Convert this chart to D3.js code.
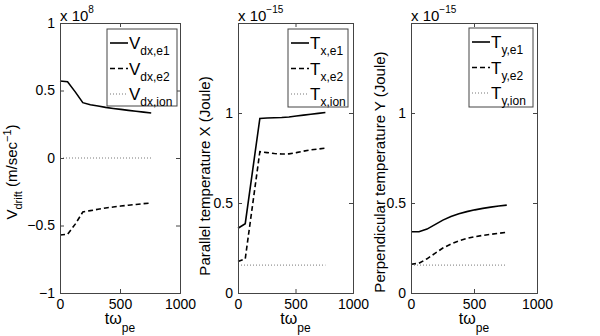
<!DOCTYPE html>
<html>
<head>
<meta charset="utf-8">
<script src="https://cdn.jsdelivr.net/npm/d3@7"></script>
<style>
  body { margin: 0; background: #fff; }
  svg { display: block; font-family: "Liberation Sans", Arial, sans-serif; }
</style>
</head>
<body>
<svg id="svg" width="600" height="336"></svg>
<script>
// sample times (t * omega_pe)
const time = [0, 63, 127, 190, 253, 317, 380, 443, 507, 570, 633, 697, 760]

// drift velocity, units of 1e8 m/s
const vdxE1 = [0.57, 0.565, 0.49, 0.41, 0.395, 0.385, 0.375, 0.367, 0.36, 0.353, 0.346, 0.34, 0.333]
const vdxE2 = [-0.57, -0.565, -0.49, -0.40, -0.39, -0.38, -0.37, -0.363, -0.356, -0.35, -0.344, -0.338, -0.333]
const vdxIon = [0, 0, 0, 0, 0, 0, 0, 0, 0, 0, 0, 0, 0]

// parallel temperature, units of 1e-15 J
const txE1 = [0.36, 0.385, 0.68, 0.97, 0.972, 0.974, 0.975, 0.978, 0.983, 0.988, 0.993, 0.998, 1.003]
const txE2 = [0.175, 0.19, 0.49, 0.785, 0.78, 0.775, 0.772, 0.773, 0.78, 0.788, 0.795, 0.8, 0.805]
const txIon = [0.155, 0.155, 0.155, 0.155, 0.155, 0.155, 0.155, 0.155, 0.155, 0.155, 0.155, 0.155, 0.155]

// perpendicular temperature, units of 1e-15 J
const tyE1 = [0.34, 0.34, 0.355, 0.38, 0.405, 0.425, 0.44, 0.452, 0.462, 0.47, 0.477, 0.483, 0.488]
const tyE2 = [0.16, 0.165, 0.19, 0.22, 0.25, 0.272, 0.29, 0.303, 0.313, 0.32, 0.326, 0.332, 0.337]
const tyIon = [0.155, 0.155, 0.155, 0.155, 0.155, 0.155, 0.155, 0.155, 0.155, 0.155, 0.155, 0.155, 0.155]

const xTicks = [0, 500, 1000]
const vTicks = [-1, -0.5, 0, 0.5, 1]
const tTicks = [0, 0.5, 1]
const legendSubs = [['dx,e1', 'dx,e2', 'dx,ion'], ['x,e1', 'x,e2', 'x,ion'], ['y,e1', 'y,e2', 'y,ion']]

const styles = [
  {stroke: '#000', width: 1.6, dash: null},
  {stroke: '#000', width: 1.6, dash: '5,3'},
  {stroke: '#777', width: 1, dash: '1,2'}
]

const panels = [
  {left: 60, right: 180, domain: [-1, 1], ticks: vTicks, series: [vdxE1, vdxE2, vdxIon],
   sym: 'V', subs: legendSubs[0], exp: '8', legend: {x: 107, y: 29, w: 70, h: 77}},
  {left: 238, right: 353, domain: [0, 1.5], ticks: tTicks, series: [txE1, txE2, txIon],
   sym: 'T', subs: legendSubs[1], exp: '\u221215', legend: {x: 288, y: 29, w: 60, h: 78}},
  {left: 411, right: 537, domain: [0, 1.5], ticks: tTicks, series: [tyE1, tyE2, tyIon],
   sym: 'T', subs: legendSubs[2], exp: '\u221215', legend: {x: 469, y: 28, w: 64, h: 79}}
]

const plotTop = 23, plotBottom = 293
const svg = d3.select('#svg')
const fmt = d3.format('~g')

panels.forEach((p, pi) => {
  const x = d3.scaleLinear().domain([0, 1000]).range([p.left, p.right])
  const y = d3.scaleLinear().domain(p.domain).range([plotBottom, plotTop])
  const g = svg.append('g')

  // data lines
  const line = d3.line().x((d, i) => x(time[i])).y(d => y(d))
  p.series.forEach((s, si) => {
    g.append('path')
      .datum(s)
      .attr('d', line)
      .attr('fill', 'none')
      .attr('stroke', styles[si].stroke)
      .attr('stroke-width', styles[si].width)
      .attr('stroke-dasharray', styles[si].dash)
  })

  // axes, ticks inward on all four sides
  g.append('g').attr('transform', `translate(0,${plotBottom})`)
    .call(d3.axisBottom(x).tickValues(xTicks).tickSize(-4).tickPadding(6).tickFormat(fmt))
  g.append('g').attr('transform', `translate(0,${plotTop})`)
    .call(d3.axisTop(x).tickValues(xTicks).tickSize(-4).tickFormat(''))
  g.append('g').attr('transform', `translate(${p.left},0)`)
    .call(d3.axisLeft(y).tickValues(p.ticks).tickSize(-4).tickPadding(5).tickFormat(fmt))
  g.append('g').attr('transform', `translate(${p.right},0)`)
    .call(d3.axisRight(y).tickValues(p.ticks).tickSize(-4).tickFormat(''))
  g.selectAll('.domain').attr('stroke', '#444')
  g.selectAll('.tick line').attr('stroke', '#444')
  g.selectAll('.tick text').attr('font-size', 14).attr('font-family', 'Liberation Sans').attr('fill', '#000')

  // exponent label
  const ex = g.append('text').attr('x', p.left).attr('y', 21).attr('font-size', 15)
  ex.append('tspan').text('x 10')
  ex.append('tspan').attr('dy', -8).attr('font-size', 10).text(p.exp)

  // x label
  const xl = g.append('text').attr('x', (p.left + p.right) / 2).attr('y', 324)
    .attr('text-anchor', 'middle').attr('font-size', 16)
  xl.append('tspan').text('t\u03c9')
  xl.append('tspan').attr('dy', 8).attr('font-size', 12).text('pe')

  // legend
  const L = p.legend
  const lg = g.append('g')
  lg.append('rect').attr('x', L.x).attr('y', L.y).attr('width', L.w).attr('height', L.h)
    .attr('fill', '#fff').attr('stroke', '#444')
  p.subs.forEach((sub, si) => {
    const ly = L.y + 14 + si * 25.5
    lg.append('line').attr('x1', L.x + 3).attr('x2', L.x + 21).attr('y1', ly).attr('y2', ly)
      .attr('stroke', styles[si].stroke).attr('stroke-width', styles[si].width)
      .attr('stroke-dasharray', styles[si].dash)
    const t = lg.append('text').attr('x', L.x + 22).attr('y', ly + 6).attr('font-size', 17)
    t.append('tspan').text(p.sym)
    t.append('tspan').attr('dy', 6).attr('font-size', 12).text(sub)
  })
})

// y labels
const yl1 = svg.append('text').attr('transform', 'translate(17,172) rotate(-90)')
  .attr('text-anchor', 'middle').attr('font-size', 15)
yl1.append('tspan').text('V')
yl1.append('tspan').attr('dy', 5).attr('font-size', 11).text('drift')
yl1.append('tspan').attr('dy', -5).text(' (m/sec')
yl1.append('tspan').attr('dy', -6).attr('font-size', 11).text('\u22121')
yl1.append('tspan').attr('dy', 6).text(')')

svg.append('text').attr('transform', 'translate(210,176) rotate(-90)')
  .attr('text-anchor', 'middle').attr('font-size', 15)
  .text('Parallel temperature X (Joule)')

svg.append('text').attr('transform', 'translate(385,172) rotate(-90)')
  .attr('text-anchor', 'middle').attr('font-size', 15)
  .text('Perpendicular temperature Y (Joule)')
</script>
</body>
</html>
